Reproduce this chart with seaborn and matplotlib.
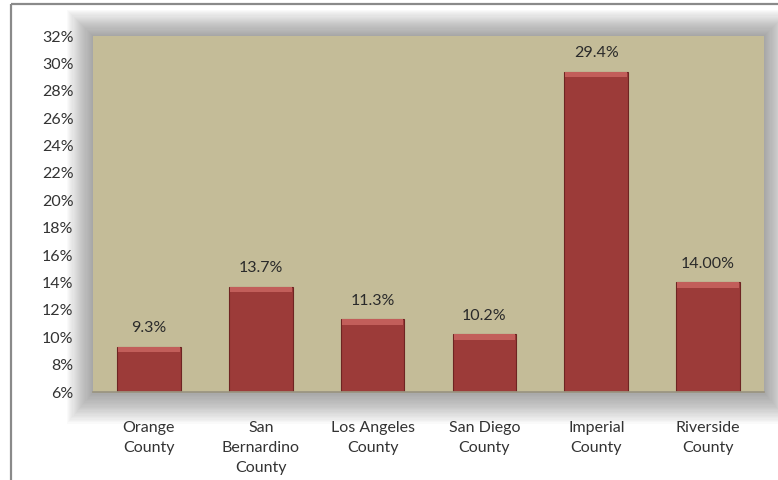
import matplotlib
matplotlib.use("Agg")
import matplotlib.pyplot as plt
from matplotlib.patches import Rectangle
import seaborn as sns
import pandas as pd

counties = ["Orange\nCounty", "San\nBernardino\nCounty", "Los Angeles\nCounty",
            "San Diego\nCounty", "Imperial\nCounty", "Riverside\nCounty"]
rates = [9.3, 13.7, 11.3, 10.2, 29.4, 14.0]
rate_labels = ["9.3%", "13.7%", "11.3%", "10.2%", "29.4%", "14.00%"]
y_ticks = list(range(6, 33, 2))
y_tick_labels = [f"{t}%" for t in y_ticks]

sns.set_theme(style="white")
plt.rcParams["font.family"] = ["Lato", "DejaVu Sans"]

W, H = 778, 480
fig = plt.figure(figsize=(W / 100, H / 100), dpi=100)
fig.patch.set_facecolor("white")

# plot area in pixel coordinates (from top-left)
left, right, top, bottom = 93, 764, 36, 392

# background layer for the frame and the soft shadow behind the plot area
bg = fig.add_axes([0, 0, 1, 1], zorder=0)
bg.set_xlim(0, W)
bg.set_ylim(H, 0)
bg.axis("off")
for i in range(24, 0, -1):
    pad = i * 1.2
    bg.add_patch(Rectangle((left - pad * 0.9, top - pad * 0.9),
                           right - left + pad * 1.8, bottom - top + pad * 2.0,
                           facecolor="#4a4a4a", alpha=0.025, edgecolor="none"))
bg.plot([11, W], [4, 4], color="#8a8a8a", lw=1.6, solid_capstyle="butt")
bg.plot([11, 11], [4, H], color="#8a8a8a", lw=1.6, solid_capstyle="butt")

ax = fig.add_axes([left / W, 1 - bottom / H, (right - left) / W, (bottom - top) / H],
                  zorder=1)
ax.set_facecolor("#c4bc98")
df = pd.DataFrame({"county": counties, "rate": rates})
sns.barplot(data=df, x="county", y="rate", ax=ax, color="#9c3b39",
            width=0.57, edgecolor="#6e2422", linewidth=0.8, saturation=1, zorder=2)

# lighter bevel along the top of each bar
bevel = 0.4
ax.bar(range(len(rates)), [bevel] * len(rates), bottom=[v - bevel for v in rates],
       width=0.55, color="#c25e5a", edgecolor="none", zorder=3)

for i, (v, lab) in enumerate(zip(rates, rate_labels)):
    ax.text(i, v + 0.85, lab, ha="center", va="bottom", fontsize=11.5, color="#2a2a2a")

ax.set_ylim(6, 32)
ax.set_xlim(-0.5, len(rates) - 0.5)
ax.set_yticks(y_ticks)
ax.set_yticklabels(y_tick_labels)
ax.set_xlabel("")
ax.set_ylabel("")
ax.tick_params(axis="y", length=0, pad=14, labelsize=11.5, labelcolor="#333333")
ax.tick_params(axis="x", length=0, pad=21, labelsize=11.5, labelcolor="#333333")
for lbl in ax.get_xticklabels():
    lbl.set_linespacing(1.55)
for s in ax.spines.values():
    s.set_visible(False)
ax.spines["bottom"].set_visible(True)
ax.spines["bottom"].set_color("#9a9480")

fig.savefig("out.png", dpi=100)
